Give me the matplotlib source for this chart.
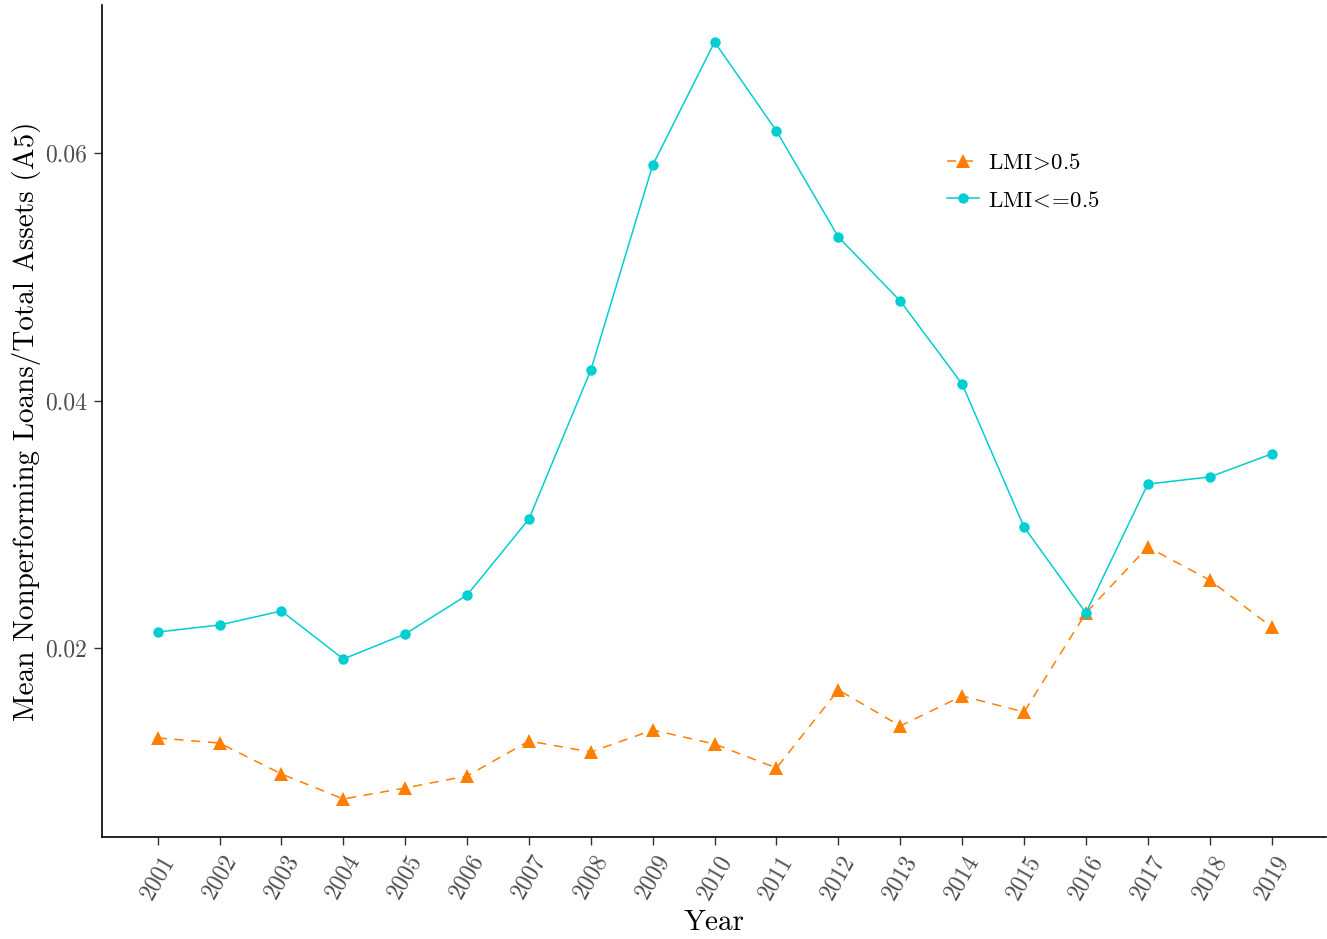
import matplotlib
matplotlib.use("Agg")
import matplotlib.pyplot as plt
from matplotlib.lines import Line2D

plt.rcParams["font.family"] = ["cmr10"]
plt.rcParams["mathtext.fontset"] = "cm"
plt.rcParams["axes.formatter.use_mathtext"] = True

years = list(range(2001, 2020))
lmi_high = [0.01273, 0.01232, 0.00982, 0.00780, 0.00869, 0.00966, 0.01248,
            0.01160, 0.01337, 0.01224, 0.01030, 0.01661, 0.01370, 0.01612,
            0.01483, 0.02283, 0.02816, 0.02549, 0.02170]
lmi_low = [0.02129, 0.02186, 0.02299, 0.01911, 0.02113, 0.02428, 0.03042,
           0.04246, 0.05903, 0.06897, 0.06178, 0.05321, 0.04804, 0.04133,
           0.02978, 0.02283, 0.03325, 0.03382, 0.03568]
y_ticks = [0.02, 0.04, 0.06]
y_tick_labels = ["0.02", "0.04", "0.06"]
labels = [r"LMI$\!>\!$0.5", r"LMI$\!<\!\!=\!$0.5"]

orange = "#FF7F00"
teal = "#00CED1"

fig = plt.figure(figsize=(13.27, 9.39), dpi=100)
ax = fig.add_axes([102 / 1327, 1 - 837 / 939, 1 - 102 / 1327 - 1 / 1327, (837 - 5) / 939])

ax.plot(years, lmi_high, color=orange, lw=1.1, dashes=(6, 5),
        marker="^", markersize=9.5, markeredgewidth=0, zorder=2)
ax.plot(years, lmi_low, color=teal, lw=1.1,
        marker="o", markersize=7.5, markeredgewidth=0, zorder=3)

ax.set_xlim(2000.1, 2019.88)
ax.set_ylim(0.004727, 0.07196)
ax.set_xticks(years)
ax.set_xticklabels([str(y) for y in years], rotation=60, ha="center",
                   rotation_mode="default")
ax.set_yticks(y_ticks)
ax.set_yticklabels(y_tick_labels)

ax.tick_params(axis="both", colors="#333333", labelcolor="#4D4D4D",
               labelsize=17, length=6, width=1.0, direction="out")
ax.tick_params(axis="x", pad=4)
ax.tick_params(axis="y", pad=5)

for side in ("top", "right"):
    ax.spines[side].set_visible(False)
for side in ("left", "bottom"):
    ax.spines[side].set_linewidth(1.2)
    ax.spines[side].set_color("black")

ax.set_xlabel("Year", fontsize=21, labelpad=5)
ax.set_ylabel("Mean Nonperforming Loans/Total Assets (A5)", fontsize=21, labelpad=3)

handles = [
    Line2D([], [], color=orange, lw=1.1, dashes=(6, 5), marker="^",
           markersize=9.5, markeredgewidth=0),
    Line2D([], [], color=teal, lw=1.1, marker="o", markersize=7.5,
           markeredgewidth=0),
]
ax.legend(handles, labels, loc="upper left", bbox_to_anchor=(0.683, 0.834),
          frameon=False, fontsize=16.5, handlelength=1.4, handletextpad=0.4,
          labelspacing=0.77, borderaxespad=0)

fig.savefig("out.png", dpi=100)
